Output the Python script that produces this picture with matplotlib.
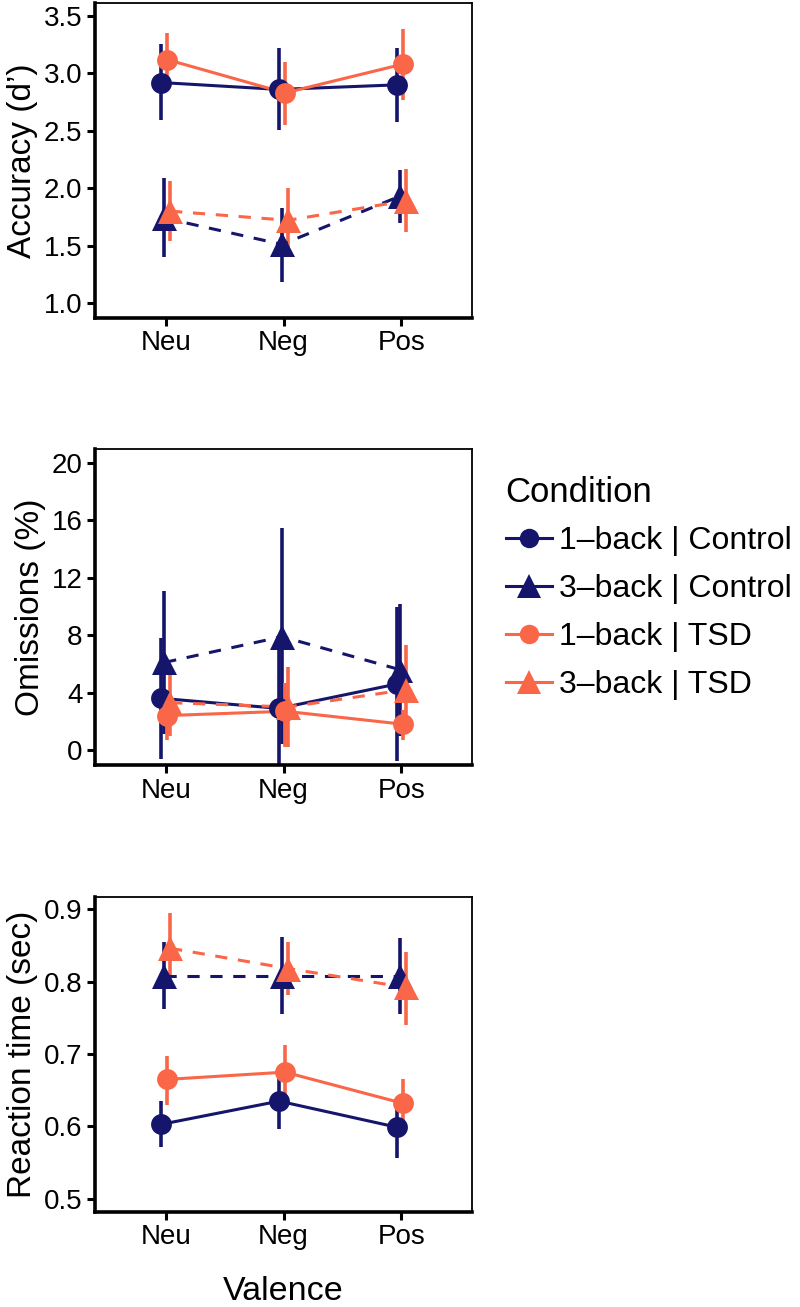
import matplotlib
matplotlib.use("Agg")
import matplotlib.pyplot as plt
from matplotlib.lines import Line2D
import numpy as np

plt.rcParams['font.family'] = ['Liberation Sans', 'DejaVu Sans']

valence = ["Neu", "Neg", "Pos"]
groups = ["1\u2013back | Control", "3\u2013back | Control", "1\u2013back | TSD", "3\u2013back | TSD"]

# Accuracy (d') : mean, lower, upper for each group, per valence
acc_mean = {
    "1\u2013back | Control": [2.92, 2.86, 2.90],
    "3\u2013back | Control": [1.74, 1.51, 1.93],
    "1\u2013back | TSD": [3.12, 2.83, 3.08],
    "3\u2013back | TSD": [1.80, 1.72, 1.89],
}
acc_lo = {
    "1\u2013back | Control": [2.59, 2.51, 2.58],
    "3\u2013back | Control": [1.40, 1.18, 1.70],
    "1\u2013back | TSD": [2.89, 2.55, 2.77],
    "3\u2013back | TSD": [1.54, 1.44, 1.62],
}
acc_hi = {
    "1\u2013back | Control": [3.26, 3.22, 3.22],
    "3\u2013back | Control": [2.09, 1.83, 2.16],
    "1\u2013back | TSD": [3.35, 3.10, 3.39],
    "3\u2013back | TSD": [2.06, 2.00, 2.17],
}

# Omissions (%)
om_mean = {
    "1\u2013back | Control": [3.6, 2.9, 4.6],
    "3\u2013back | Control": [6.1, 7.9, 5.6],
    "1\u2013back | TSD": [2.4, 2.7, 1.8],
    "3\u2013back | TSD": [3.3, 3.0, 4.2],
}
om_lo = {
    "1\u2013back | Control": [-0.6, -1.2, -0.8],
    "3\u2013back | Control": [1.1, 0.4, 1.0],
    "1\u2013back | TSD": [0.7, 0.2, 0.7],
    "3\u2013back | TSD": [1.0, 0.2, 1.1],
}
om_hi = {
    "1\u2013back | Control": [7.8, 7.0, 10.0],
    "3\u2013back | Control": [11.1, 15.5, 10.2],
    "1\u2013back | TSD": [4.1, 4.7, 2.8],
    "3\u2013back | TSD": [5.5, 5.8, 7.3],
}

# Reaction time (sec)
rt_mean = {
    "1\u2013back | Control": [0.603, 0.635, 0.599],
    "3\u2013back | Control": [0.808, 0.808, 0.808],
    "1\u2013back | TSD": [0.665, 0.675, 0.632],
    "3\u2013back | TSD": [0.846, 0.818, 0.792],
}
rt_lo = {
    "1\u2013back | Control": [0.572, 0.597, 0.556],
    "3\u2013back | Control": [0.762, 0.755, 0.755],
    "1\u2013back | TSD": [0.630, 0.637, 0.600],
    "3\u2013back | TSD": [0.800, 0.782, 0.740],
}
rt_hi = {
    "1\u2013back | Control": [0.635, 0.675, 0.640],
    "3\u2013back | Control": [0.854, 0.862, 0.860],
    "1\u2013back | TSD": [0.697, 0.713, 0.665],
    "3\u2013back | TSD": [0.895, 0.855, 0.841],
}

NAVY = "#15166b"
ORANGE = "#fa6648"
styles = {
    "1\u2013back | Control": dict(color=NAVY, marker="o", ls="-", off=-0.0375),
    "3\u2013back | Control": dict(color=NAVY, marker="^", ls="--", off=-0.0125),
    "1\u2013back | TSD": dict(color=ORANGE, marker="o", ls="-", off=0.0125),
    "3\u2013back | TSD": dict(color=ORANGE, marker="^", ls="--", off=0.0375),
}

W, H = 800, 1307
fig = plt.figure(figsize=(W / 100, H / 100), dpi=100)

def frac(l, t, r, b):
    return [l / W, 1 - b / H, (r - l) / W, (b - t) / H]

panels = [
    (frac(95, 3, 472, 318), acc_mean, acc_lo, acc_hi, "Accuracy (d\u2019)",
     (0.869, 3.613), [1.0, 1.5, 2.0, 2.5, 3.0, 3.5], "{:.1f}"),
    (frac(95, 449, 472, 765), om_mean, om_lo, om_hi, "Omissions (%)",
     (-1.045, 20.98), [0, 4, 8, 12, 16, 20], "{:d}"),
    (frac(95, 897, 472, 1212), rt_mean, rt_lo, rt_hi, "Reaction time (sec)",
     (0.482, 0.9167), [0.5, 0.6, 0.7, 0.8, 0.9], "{:.1f}"),
]

x = np.arange(1, len(valence) + 1)
dash = (4, 3.5)

for i, (rect, mean, lo, hi, ylabel, ylim, yticks, fmt) in enumerate(panels):
    ax = fig.add_axes(rect)
    # error bars
    for g in groups:
        st = styles[g]
        xs = x + st["off"]
        ax.vlines(xs, lo[g], hi[g], color=st["color"], lw=2.6, zorder=2)
    # lines
    for g in groups:
        st = styles[g]
        xs = x + st["off"]
        if st["ls"] == "--":
            ax.plot(xs, mean[g], color=st["color"], lw=2.2, dashes=dash, zorder=3)
        else:
            ax.plot(xs, mean[g], color=st["color"], lw=2.2, zorder=3)
    # points
    for g in groups:
        st = styles[g]
        xs = x + st["off"]
        ms = 15 if st["marker"] == "o" else 18
        ax.plot(xs, mean[g], ls="none", marker=st["marker"], ms=ms,
                color=st["color"], markeredgewidth=0, zorder=4)
    ax.set_xlim(0.4, 3.6)
    ax.set_ylim(*ylim)
    ax.set_xticks(x)
    ax.set_xticklabels(valence)
    ax.set_yticks(yticks)
    ax.set_yticklabels([fmt.format(v) for v in yticks])
    ax.tick_params(axis="both", labelsize=20, colors="black", length=6, width=2.2, pad=3)
    ax.tick_params(axis="x", pad=3)
    ax.set_ylabel(ylabel, fontsize=24, labelpad=4)
    for s in ["left", "bottom"]:
        ax.spines[s].set_linewidth(2.6)
    for s in ["top", "right"]:
        ax.spines[s].set_linewidth(1.3)
    if i == 2:
        ax.set_xlabel("Valence", fontsize=24.5, labelpad=18)

handles = [Line2D([0], [0], color=styles[g]["color"], marker=styles[g]["marker"],
                  lw=2.2, ms=14 if styles[g]["marker"] == "o" else 17, markeredgewidth=0)
           for g in groups]
leg = fig.legend(handles, groups, title="Condition", frameon=False,
                 loc="upper left", bbox_to_anchor=(494 / W, 1 - 464 / H),
                 fontsize=23, title_fontsize=25, handlelength=1.45,
                 handletextpad=0.22, labelspacing=0.56, borderaxespad=0,
                 borderpad=0.36)
leg._legend_box.align = "left"

fig.savefig("out.png", dpi=100)
